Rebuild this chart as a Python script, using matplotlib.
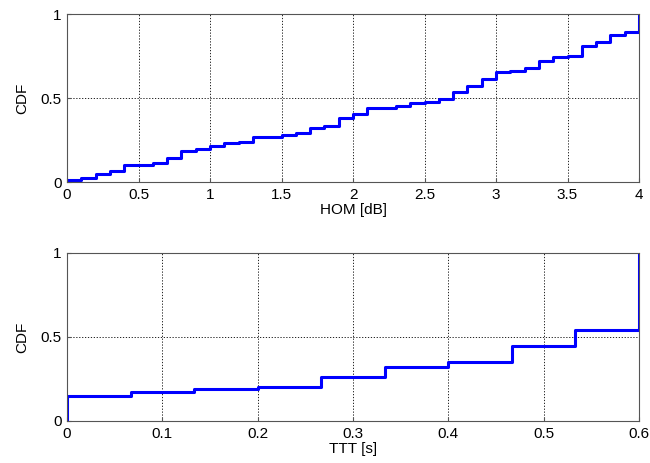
import numpy as np
import matplotlib
matplotlib.use("Agg")
import matplotlib.pyplot as plt

plt.rcParams['font.family'] = ['Liberation Sans', 'DejaVu Sans']

# HOM CDF, steps every 0.1 dB
hom_edges = np.round(np.arange(0, 4.01, 0.1), 2)
hom_cdf = [0.012, 0.024, 0.046, 0.067, 0.099, 0.099, 0.115, 0.145, 0.186, 0.196,
           0.216, 0.230, 0.240, 0.270, 0.270, 0.280, 0.290, 0.320, 0.333, 0.383,
           0.403, 0.442, 0.442, 0.450, 0.470, 0.478, 0.496, 0.533, 0.571, 0.615,
           0.653, 0.661, 0.679, 0.722, 0.744, 0.750, 0.810, 0.833, 0.875, 0.895]

# TTT CDF, steps every 1/15 s
ttt_edges = np.arange(0, 10) / 15.0
ttt_cdf = [0.150, 0.174, 0.188, 0.204, 0.262, 0.319, 0.354, 0.445, 0.540]

fig = plt.figure(figsize=(6.5, 4.63), dpi=100)
ax1 = fig.add_axes([67/650, 1-182/463, 572/650, 168/463])
ax2 = fig.add_axes([67/650, 1-421/463, 572/650, 168/463])

def step_xy(edges, vals):
    x = np.concatenate([[edges[0]], edges])
    y = np.concatenate([[0], vals, [1]])
    return x, y

x, y = step_xy(hom_edges, hom_cdf)
ax1.plot(x, y, drawstyle='steps-post', color='#0000ff', lw=2.2)
x, y = step_xy(ttt_edges, ttt_cdf)
ax2.plot(x, y, drawstyle='steps-post', color='#0000ff', lw=2.2)

ax1.set_xlim(0, 4)
ax1.set_xticks(np.arange(0, 4.01, 0.5))
ax1.set_xticklabels(['0', '0.5', '1', '1.5', '2', '2.5', '3', '3.5', '4'])
ax1.set_xlabel('HOM [dB]', labelpad=1)

ax2.set_xlim(0, 0.6)
ax2.set_xticks(np.arange(0, 0.61, 0.1))
ax2.set_xticklabels(['0', '0.1', '0.2', '0.3', '0.4', '0.5', '0.6'])
ax2.set_xlabel('TTT [s]', labelpad=1)

for ax in (ax1, ax2):
    ax.set_ylim(0, 1)
    ax.set_yticks([0, 0.5, 1])
    ax.set_yticklabels(['0', '0.5', '1'])
    ax.set_ylabel('CDF', labelpad=8)
    ax.grid(True, color='black', linestyle=(0, (1.5, 2)), linewidth=0.6)
    ax.tick_params(direction='in', length=3, labelsize=11, pad=4, color='#555555')
    for s in ax.spines.values():
        s.set_color('#555555')
        s.set_linewidth(0.8)
    ax.xaxis.label.set_size(11)
    ax.yaxis.label.set_size(11)

fig.savefig('out.png', dpi=100)
